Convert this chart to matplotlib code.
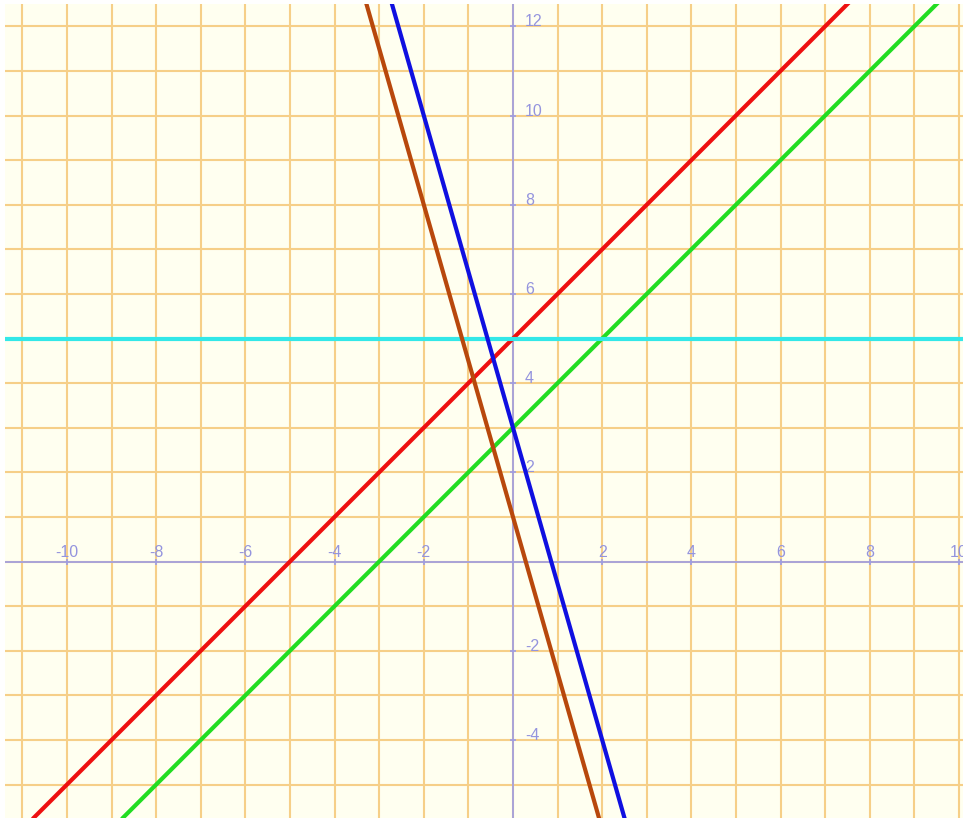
import matplotlib
matplotlib.use("Agg")
import matplotlib.pyplot as plt
import matplotlib.transforms as mtransforms
import numpy as np

# ---- data ----
line_names = ["y = x + 5", "y = x + 3", "y = 5", "y = -3.5x + 1", "y = -3.5x + 3"]
line_slopes = [1.0, 1.0, 0.0, -3.5, -3.5]
line_intercepts = [5.0, 3.0, 5.0, 1.0, 3.0]
line_colors = ["#ee1010", "#22dd22", "#33e8e8", "#b8480c", "#1010e0"]
draw_order = [2, 4, 3, 0, 1]

x_tick_labels = [-10, -8, -6, -4, -2, 2, 4, 6, 8, 10]
y_tick_labels = [-4, -2, 2, 4, 6, 8, 10, 12]
x_limits = (-11.39, 10.09)
y_limits = (-5.75, 12.50)

# ---- styles ----
bg_color = "#fffff0"
grid_color = "#f6cf88"
axis_color = "#9c9ce6"
label_color = "#9494de"

fig = plt.figure(figsize=(9.63, 8.18), dpi=100)
fig.patch.set_facecolor("white")
ax = fig.add_axes([5 / 963, 0, 958 / 963, 814 / 818])
ax.set_facecolor(bg_color)
ax.set_xlim(*x_limits)
ax.set_ylim(*y_limits)

# grid every unit
ax.set_xticks(np.arange(np.ceil(x_limits[0]), np.floor(x_limits[1]) + 1))
ax.set_yticks(np.arange(np.ceil(y_limits[0]), np.floor(y_limits[1]) + 1))
ax.tick_params(length=0, labelbottom=False, labelleft=False)
ax.grid(True, color=grid_color, linewidth=1.5, zorder=0)
ax.set_axisbelow(True)
for s in ax.spines.values():
    s.set_visible(False)

# axes lines
ax.axhline(0, color=axis_color, linewidth=1.2, zorder=1)
ax.axvline(0, color=axis_color, linewidth=1.2, zorder=1)

# small tick marks
ax.plot(x_tick_labels, [0] * len(x_tick_labels), linestyle="none", marker="|",
        markersize=5, markeredgewidth=1.2, color=axis_color, zorder=1)
ax.plot([0] * len(y_tick_labels), y_tick_labels, linestyle="none", marker="_",
        markersize=5, markeredgewidth=1.2, color=axis_color, zorder=1)

# tick labels
font = dict(family=["Liberation Sans", "DejaVu Sans"], size=11.5, color=label_color)
off_x = mtransforms.offset_copy(ax.transData, fig=fig, x=0, y=5, units="dots")
for v in x_tick_labels:
    ax.text(v, 0, f"-{abs(v)}" if v < 0 else str(v), transform=off_x,
            ha="center", va="baseline", zorder=2, **font)
off_y = mtransforms.offset_copy(ax.transData, fig=fig, x=12, y=0, units="dots")
for v in y_tick_labels:
    ax.text(0, v, f"-{abs(v)}" if v < 0 else str(v), transform=off_y,
            ha="left", va="baseline", zorder=2, **font)

# lines
xs = np.array([x_limits[0] - 1, x_limits[1] + 1])
for i in draw_order:
    ax.plot(xs, line_slopes[i] * xs + line_intercepts[i], color=line_colors[i],
            linewidth=3.0, solid_capstyle="butt", zorder=3 + i, label=line_names[i])

fig.savefig("out.png", dpi=100, facecolor=fig.get_facecolor())
